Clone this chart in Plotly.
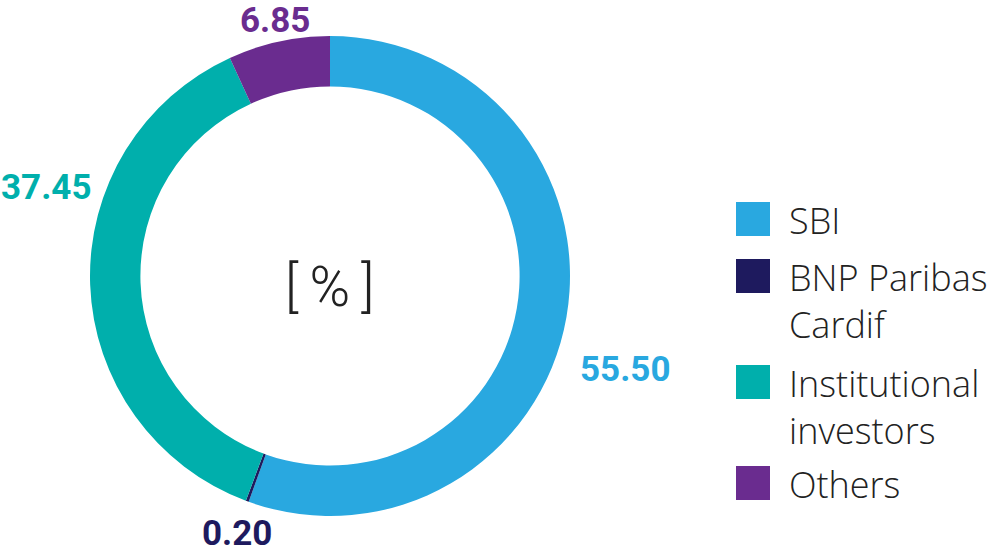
import plotly.graph_objects as go

labels = ["SBI", "BNP Paribas Cardif", "Institutional investors", "Others"]
legend_text = ["SBI", "BNP Paribas<br>Cardif", "Institutional<br>investors", "Others"]
values = [55.50, 0.20, 37.45, 6.85]
value_text = ["55.50", "0.20", "37.45", "6.85"]
colors = ["#29A8E0", "#1E1A5E", "#00AFAC", "#6A2C8F"]

W, H = 1000, 554

def px(x):
    return x / W

def py(y):
    return 1 - y / H

fig = go.Figure()
fig.add_trace(go.Pie(
    labels=labels, values=values, sort=False, direction="clockwise", rotation=0,
    hole=0.79, marker=dict(colors=colors, line=dict(width=0)),
    textinfo="none", hoverinfo="label+value", showlegend=False,
    domain=dict(x=[px(90), px(570)], y=[py(516), py(36)]),
))

# value labels around the ring
label_pos = [(625, 369), (237, 533), (46, 187), (275, 21)]
for txt, c, (x, y) in zip(value_text, colors, label_pos):
    fig.add_annotation(x=px(x), y=py(y), xref="paper", yref="paper", text=txt,
                       showarrow=False, xanchor="center", yanchor="middle",
                       font=dict(family="Roboto", size=35, color=c, weight="bold"))

# centre unit
fig.add_annotation(x=px(329), y=py(287), xref="paper", yref="paper", text="[\u2009%\u2009]",
                   showarrow=False, xanchor="center", yanchor="middle",
                   font=dict(family="Roboto", size=55, color="#222222", weight=300))

# manual legend
legend_rows = [219, 276, 382, 483]
for txt, c, y in zip(legend_text, colors, legend_rows):
    fig.add_shape(type="rect", xref="paper", yref="paper",
                  x0=px(736), x1=px(770), y0=py(y - 17), y1=py(y + 17),
                  fillcolor=c, line=dict(width=0))
    fig.add_annotation(x=px(787), y=py(y - 25), xref="paper", yref="paper", text=txt,
                       showarrow=False, xanchor="left", yanchor="top", align="left",
                       font=dict(family="Open Sans", size=36, color="#222222", weight=300))

fig.update_layout(width=W, height=H, margin=dict(l=0, r=0, t=0, b=0),
                  paper_bgcolor="white", plot_bgcolor="white")
fig.write_html("out.html", config={"displayModeBar": False},
               post_script="document.body.style.margin='0';document.body.style.overflow='hidden';")
